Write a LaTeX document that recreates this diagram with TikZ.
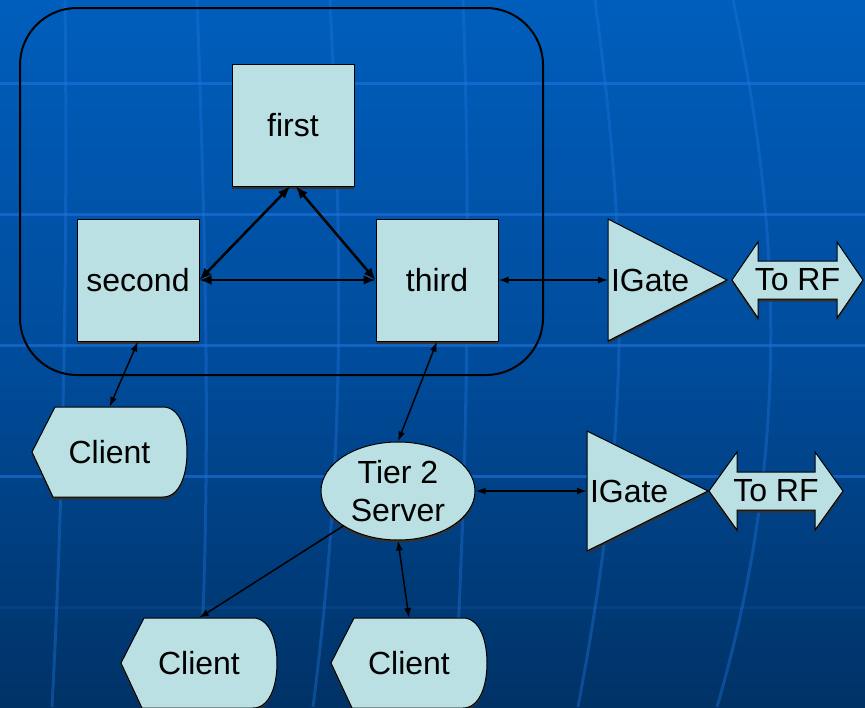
\documentclass[tikz,border=0pt]{standalone}
\usepackage{fontspec}
\setmainfont{Liberation Sans}
\usetikzlibrary{shapes.geometric,arrows.meta,calc,shadows}
\definecolor{boxc}{RGB}{187,224,227}
\definecolor{bgtop}{RGB}{0,94,188}
\definecolor{bgmid}{RGB}{0,76,156}
\definecolor{bgbot}{RGB}{0,50,102}
\definecolor{gridc}{RGB}{30,115,220}
\pgfdeclarelayer{back}
\pgfdeclarelayer{shapes}
\pgfsetlayers{back,shapes,main}
\newcommand\drawclient[1]{%
  \path[shp] ($(#1.north west)+(23,0)$) -- ($(#1.north east)+(-24,0)$)
    .. controls ($(#1.north east)+(-8,0)$) and ($(#1.east)+(0,-24)$) .. (#1.east)
    .. controls ($(#1.east)+(0,24)$) and ($(#1.south east)+(-8,0)$) .. ($(#1.south east)+(-24,0)$)
    -- ($(#1.south west)+(21,0)$) -- (#1.west) -- cycle;}
\newcommand\drawgate[1]{%
  \path[shp] (#1.north west) -- (#1.east) -- (#1.south west) -- cycle;}
% #1 name, #2 head length, #3 head half height, #4 shaft half height, #5 shaft length
\newcommand\drawrf[5]{%
  \path[shp] (#1.west) -- ++(#2,-#3) -- ++(0,#3-#4) -- ++(#5,0) -- ++(0,#4-#3)
    -- (#1.east) -- ++(-#2,#3) -- ++(0,#4-#3) -- ++(-#5,0) -- ++(0,#3-#4) -- cycle;}
\begin{document}
\begin{tikzpicture}[x=1pt,y=-1pt,
  lbl/.style={font=\fontsize{32}{38}\selectfont, text=black},
  dshadow/.style={drop shadow={shadow xshift=0pt, shadow yshift=-2.5pt, fill=black!80, opacity=1}},
  box/.style={lbl, draw=black, line width=1pt, fill=boxc, minimum width=122pt, minimum height=122pt, inner sep=0pt, dshadow},
  frame/.style={inner sep=0pt, outer sep=0pt},
  shp/.style={draw=black, line width=1pt, fill=boxc, dshadow},
  container/.style={draw=black, line width=2pt, rounded corners=57pt, inner sep=0pt, minimum width=523pt, minimum height=367pt},
  conn/.style={line width=1.5pt, {Latex[length=10pt,width=7pt]}-{Latex[length=10pt,width=7pt]}},
  oneway/.style={line width=1.5pt, -{Latex[length=10pt,width=7pt]}},
  tri/.style={line width=2.5pt, {Latex[length=12pt,width=10pt]}-{Latex[length=12pt,width=10pt]}},
  gridl/.style={draw=gridc, line width=3pt, opacity=0.4}
]
\useasboundingbox (0,0) rectangle (865,707);
\begin{pgfonlayer}{back}
  \shade[top color=bgtop, bottom color=bgbot, middle color=bgmid] (0,0) rectangle (865,707);
  \foreach \yy in {83,214,345,476} {\path[gridl, opacity=0.6] (0,\yy) -- (865,\yy);}
  \path[gridl, opacity=0.15] (0,607) -- (865,607);
  \path[gridl] (65,0) .. controls (68,250) and (63,500) .. (52,707);
  \path[gridl] (197,0) .. controls (206,250) and (212,500) .. (198,707);
  \path[gridl] (330,0) .. controls (342,250) and (346,450) .. (313,707);
  \path[gridl] (463,0) .. controls (472,250) and (466,500) .. (454,707);
  \path[gridl] (595,0) .. controls (628,250) and (632,420) .. (578,707);
  \path[gridl] (733,0) .. controls (780,220) and (792,450) .. (717,707);
\end{pgfonlayer}

\node[container] (grp) at (281.5,191.5) {};

\node[box] (first) at (293,125) {first};
\node[box] (second) at (138,280) {second};
\node[box] (third) at (437,280) {third};

\node[frame, minimum width=119pt, minimum height=122pt] (g1) at (667.5,280) {};
\node[lbl, frame, anchor=west] (g1t) at ($(g1.west)+(3,0)$) {IGate};
\node[frame, minimum width=121pt, minimum height=120pt] (g2) at (647.5,491) {};
\node[lbl, frame, anchor=west] (g2t) at ($(g2.west)+(3,0)$) {IGate};

\node[lbl, frame, minimum width=131pt, minimum height=76pt] (rf1) at (797.5,280) {To RF};
\node[lbl, frame, minimum width=134pt, minimum height=78pt] (rf2) at (776,491) {To RF};

\node[lbl, ellipse, draw=black, line width=1pt, fill=boxc, minimum width=154pt, minimum height=98pt, inner sep=0pt, align=center, dshadow] (t2) at (398,491) {Tier 2\\Server};

\node[lbl, frame, minimum width=155pt, minimum height=90pt] (c1) at (109.5,452) {Client};
\node[lbl, frame, minimum width=156pt, minimum height=90pt] (c2) at (199,663) {Client};
\node[lbl, frame, minimum width=156pt, minimum height=90pt] (c3) at (409,663) {Client};

\begin{pgfonlayer}{shapes}
  \drawgate{g1}
  \drawgate{g2}
  \drawrf{rf1}{26}{38}{19}{79}
  \drawrf{rf2}{28}{39}{19}{78}
  \drawclient{c1}
  \drawclient{c2}
  \drawclient{c3}
\end{pgfonlayer}

\draw[tri] ($(first.south)+(-3,0)$) -- (second.east);
\draw[tri] ($(first.south)+(3,0)$) -- (third.west);
\draw[tri] (second.east) -- (third.west);
\draw[conn] (second.south) -- (c1.north);
\draw[conn] (third.south) -- (t2.north);
\draw[conn] (third.east) -- (g1.west);
\draw[conn] (t2.east) -- (g2.west);
\draw[oneway] (t2.south west) -- (c2.north);
\draw[conn] (t2.south) -- (c3.north);
\end{tikzpicture}
\end{document}
